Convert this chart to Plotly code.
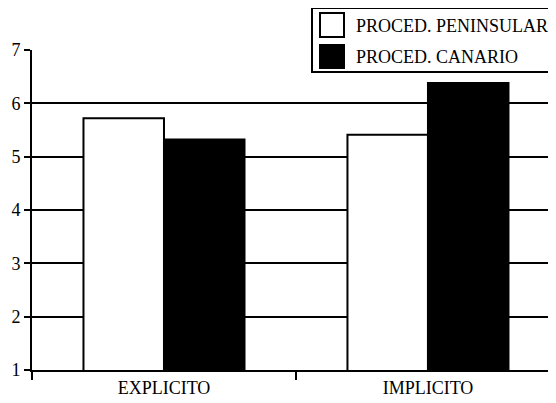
import plotly.graph_objects as go

categories = ["EXPLICITO", "IMPLICITO"]
series_names = ["PROCED. PENINSULAR", "PROCED. CANARIO"]
peninsular = [5.72, 5.41]
canario = [5.32, 6.38]
y_ticks = [1, 2, 3, 4, 5, 6, 7]

# page body has an 8px margin, so the figure is 8px smaller and coordinates shift by 8
OFF = 8
W, H = 556 - OFF, 403 - OFF
L, T, B = 32 - OFF, 50 - OFF, 33
pw = W - L
ph = H - T - B

def px(x):
    return (x - OFF - L) / pw

def py(y):
    return (H - B - (y - OFF)) / ph

font = dict(family="'Times New Roman', 'Liberation Serif', 'DejaVu Serif', serif", size=18, color="black")

fig = go.Figure()
fig.add_trace(go.Bar(x=categories, y=peninsular, name=series_names[0],
                     marker=dict(color="white", line=dict(color="black", width=2)),
                     showlegend=False))
fig.add_trace(go.Bar(x=categories, y=canario, name=series_names[1],
                     marker=dict(color="black", line=dict(color="black", width=2)),
                     showlegend=False))

shapes = [
    dict(type="rect", xref="paper", yref="paper", x0=px(312), x1=px(570), y0=py(72), y1=py(8),
         line=dict(color="black", width=2), fillcolor="white", layer="above"),
    dict(type="rect", xref="paper", yref="paper", x0=px(320), x1=px(344), y0=py(37), y1=py(13),
         line=dict(color="black", width=2), fillcolor="white", layer="above"),
    dict(type="rect", xref="paper", yref="paper", x0=px(320), x1=px(344), y0=py(68), y1=py(45),
         line=dict(color="black", width=2), fillcolor="black", layer="above"),
]
annotations = [
    dict(xref="paper", yref="paper", x=px(354), y=py(26), text=series_names[0], showarrow=False,
         xanchor="left", yanchor="middle", font=font),
    dict(xref="paper", yref="paper", x=px(354), y=py(57), text=series_names[1], showarrow=False,
         xanchor="left", yanchor="middle", font=font),
]

fig.update_layout(
    width=W, height=H,
    margin=dict(l=L, r=0, t=T, b=B),
    paper_bgcolor="white", plot_bgcolor="white",
    barmode="group", bargap=0.39, bargroupgap=0,
    font=font,
    shapes=shapes, annotations=annotations,
    showlegend=False,
)
fig.update_xaxes(
    type="category", range=[-0.5, 1.485], tickson="boundaries",
    ticks="outside", ticklen=8, tickwidth=2, tickcolor="black",
    showline=True, linecolor="black", linewidth=2, showgrid=False,
    tickfont=font,
)
fig.update_yaxes(
    range=[1, 7], tickvals=y_ticks, ticks="outside", ticklen=6, tickwidth=2, tickcolor="black",
    showline=True, linecolor="black", linewidth=2,
    showgrid=True, gridcolor="black", gridwidth=2, zeroline=False,
    tickfont=font,
)

fig.write_html("out.html")
